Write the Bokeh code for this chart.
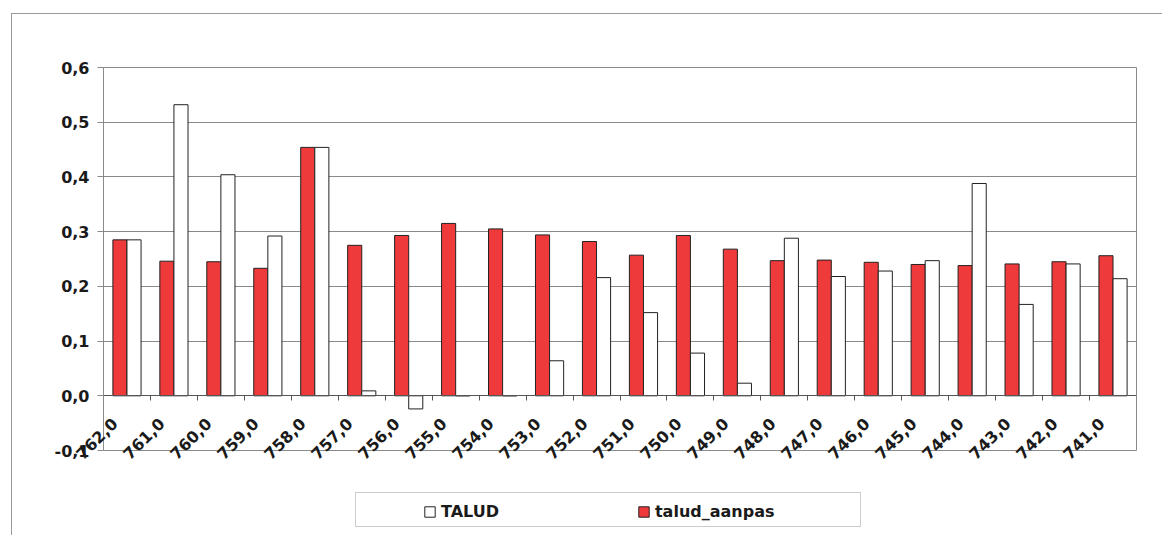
import math
from bokeh.plotting import figure
from bokeh.layouts import column
from bokeh.models import (ColumnDataSource, Range1d, FixedTicker, CustomJSTickFormatter,
                          Legend, LegendItem, HTMLLabelSet)
from bokeh.transform import dodge
from bokeh.core.properties import value
from bokeh.embed import file_html
from bokeh.resources import INLINE

# ---- data ----
categories = ["762,0", "761,0", "760,0", "759,0", "758,0", "757,0", "756,0", "755,0",
              "754,0", "753,0", "752,0", "751,0", "750,0", "749,0", "748,0", "747,0",
              "746,0", "745,0", "744,0", "743,0", "742,0", "741,0"]
talud_aanpas = [0.285, 0.246, 0.245, 0.233, 0.454, 0.275, 0.293, 0.315, 0.305, 0.294, 0.282,
                0.257, 0.293, 0.268, 0.247, 0.248, 0.244, 0.240, 0.238, 0.241, 0.245, 0.256]
talud = [0.285, 0.532, 0.404, 0.292, 0.454, 0.009, -0.024, None, None, 0.064, 0.216,
         0.152, 0.078, 0.023, 0.288, 0.218, 0.228, 0.247, 0.388, 0.167, 0.241, 0.214]
y_ticks = [-0.1, 0.0, 0.1, 0.2, 0.3, 0.4, 0.5, 0.6]

FONT = "DejaVu Sans"
GRID = "#8a8a8a"
RED = "#EE3A3A"
EDGE = "#222222"
TEXT = "#1a1a1a"
n = len(categories)

src = ColumnDataSource(dict(x=[i + 0.5 for i in range(n)], cat=categories,
                            talud=talud, talud_aanpas=talud_aanpas))

p = figure(x_range=Range1d(0, n), y_range=Range1d(-0.1, 0.6),
           width=1150, height=456, output_backend="svg", toolbar_location=None,
           min_border_left=91, min_border_right=26, min_border_top=53, min_border_bottom=20)
p.background_fill_color = "white"
p.border_fill_color = "white"
p.outline_line_color = GRID
p.xgrid.grid_line_color = None
p.ygrid.grid_line_color = GRID
p.ygrid.ticker = FixedTicker(ticks=y_ticks)

ax = p.yaxis[0]
ax.ticker = FixedTicker(ticks=y_ticks, minor_ticks=[])
ax.formatter = CustomJSTickFormatter(code="return tick.toFixed(1).replace('.', ',');")
ax.axis_line_color = GRID
ax.major_tick_line_color = GRID
ax.major_tick_out = 6
ax.major_tick_in = 0
ax.minor_tick_line_color = None
ax.major_label_standoff = 8
ax.major_label_text_font = FONT
ax.major_label_text_font_size = "16px"
ax.major_label_text_font_style = "bold"
ax.major_label_text_color = TEXT

# category axis line at zero, with ticks between categories
xa = p.xaxis[0]
xa.fixed_location = 0
xa.ticker = FixedTicker(ticks=[], minor_ticks=list(range(1, n)))
xa.major_tick_line_color = None
xa.major_label_text_font_size = "0px"
xa.minor_tick_line_color = "#555555"
xa.minor_tick_out = 5
xa.minor_tick_in = 0
xa.axis_line_color = "#555555"

r_red = p.vbar(x=dodge("x", -0.15), top="talud_aanpas", bottom=0,
               width=0.3, source=src, fill_color=RED, line_color=EDGE, line_width=1)
r_white = p.vbar(x=dodge("x", 0.15), top="talud", bottom=0,
                 width=0.3, source=src, fill_color="white", line_color=EDGE, line_width=1)

# slanted category labels
cat_labels = HTMLLabelSet(x="x", y=0, text="cat", source=src, x_offset=-11, y_offset=-26,
                          angle=math.pi / 4, text_align="right", text_baseline="middle",
                          text_font=value(FONT), text_font_size="16px",
                          text_font_style="bold", text_color=TEXT)
p.add_layout(cat_labels)

# ---- legend strip below the chart ----
q = figure(x_range=Range1d(0, 1), y_range=Range1d(0, 1), width=1150, height=65,
           output_backend="svg", toolbar_location=None,
           min_border_left=0, min_border_right=0, min_border_top=0, min_border_bottom=0)
q.axis.visible = False
q.grid.visible = False
q.outline_line_color = None
q.background_fill_color = "white"
q.border_fill_color = "white"
lg_white = q.vbar(x="x", top="talud", width=0.1, source=src,
                  fill_color="white", line_color=EDGE, visible=False)
lg_red = q.vbar(x="x", top="talud_aanpas", width=0.1, source=src,
                fill_color=RED, line_color=EDGE, visible=False)
lg_none = q.vbar(x=[], top=[], width=0.1, fill_alpha=0, line_alpha=0)

box = Legend(items=[LegendItem(label=" ", renderers=[lg_none])], location=(252, 8),
             padding=0, margin=0, glyph_width=500, glyph_height=33, label_standoff=0,
             label_width=4, label_height=1, label_text_font_size="1px",
             border_line_color="#999999", border_line_width=1,
             background_fill_color="white", background_fill_alpha=1)
q.add_layout(box)

legend = Legend(items=[LegendItem(label="TALUD", renderers=[lg_white]),
                       LegendItem(label="talud_aanpas", renderers=[lg_red])],
                location=(320, 14), orientation="horizontal", padding=0, margin=0,
                spacing=138, glyph_width=13, glyph_height=13, label_standoff=5,
                label_text_font=FONT, label_text_font_size="16px",
                label_text_font_style="bold", label_text_color=TEXT,
                border_line_color=None, background_fill_alpha=0)
q.add_layout(legend)

layout = column(p, q, spacing=0)
layout.styles = {"margin-left": "11px", "margin-top": "13px",
                 "border-left": "1px solid #999", "border-top": "1px solid #999"}

open("out.html", "w").write(file_html(layout, INLINE))
